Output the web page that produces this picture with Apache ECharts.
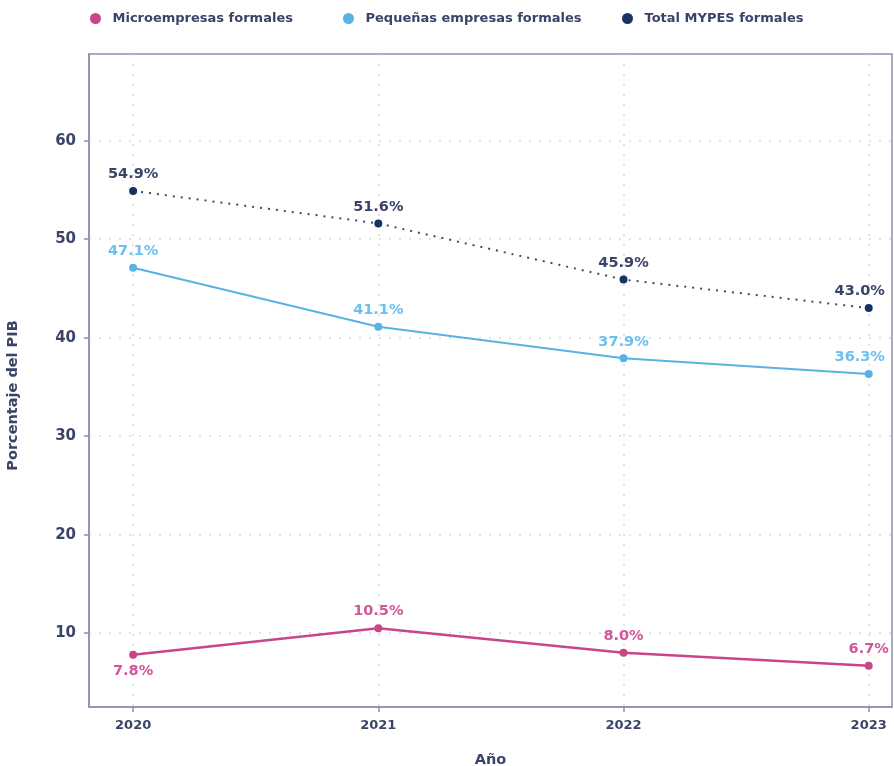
<!DOCTYPE html>
<html>
<head>
<meta charset="utf-8">
<script src="https://cdn.jsdelivr.net/npm/echarts@6/dist/echarts.min.js"></script>
<style>
  html, body { margin: 0; padding: 0; background: #ffffff; }
  #chart { width: 894px; height: 766px; }
</style>
</head>
<body>
<div id="chart"></div>
<script>
// Years on the horizontal axis
const years = [2020, 2021, 2022, 2023];
// Share of GDP (%) by firm size
const microempresas = [7.8, 10.5, 8.0, 6.7];
const pequenas = [47.1, 41.1, 37.9, 36.3];
const totalMypes = [54.9, 51.6, 45.9, 43.0];
// Value-axis tick labels
const yTicks = [10, 20, 30, 40, 50, 60];

const seriesNames = ['Microempresas formales', 'Pequeñas empresas formales', 'Total MYPES formales'];
const seriesColors = ['#c9458a', '#58b2e4', '#16345f'];
const labelColors = ['#d0589a', '#6cc0ee', '#3a4468'];

const axisColor = '#8d90b1';
const textColor = '#3b4468';
const font = '"DejaVu Sans", "Noto Sans", sans-serif';

const toPairs = (vals) => vals.map((v, i) => [years[i], v]);

const pctLabel = (color) => ({
  show: true,
  position: 'top',
  distance: 5,
  formatter: (p) => p.value[1].toFixed(1) + '%',
  color: color, fontSize: 14.5, fontWeight: 'bold', fontFamily: font
});

// Last-year labels are nudged left so they stay inside the frame
const withEdgeLabels = (vals) => toPairs(vals).map((d, i) => i === vals.length - 1
  ? { value: d, label: { offset: [-9, 0] } }
  : { value: d });

// One legend block per series so each entry sits at its own spot
const legendLefts = [85, 338, 617];
const legends = seriesNames.map((name, i) => ({
  top: 7,
  left: legendLefts[i],
  icon: 'circle',
  itemWidth: 24,
  itemHeight: 11,
  textStyle: { color: textColor, fontSize: 13, fontWeight: 'bold', fontFamily: font },
  data: [name]
}));

const chart = echarts.init(document.getElementById('chart'), null, { renderer: 'canvas' });

chart.setOption({
  backgroundColor: '#ffffff',
  animation: false,
  textStyle: { fontFamily: font },
  legend: legends,
  grid: {
    left: 89,
    right: 2,
    top: 54,
    bottom: 59,
    show: true,
    borderColor: axisColor,
    borderWidth: 1.5,
    containLabel: false,
    outerBoundsMode: 'none'
  },
  xAxis: {
    type: 'value',
    min: 2019.82,
    max: 2023.095,
    name: 'Año',
    nameLocation: 'middle',
    nameGap: 46,
    nameTextStyle: { color: textColor, fontSize: 14.5, fontWeight: 'bold', fontFamily: font },
    axisLine: { show: true, lineStyle: { color: axisColor, width: 1.5 } },
    axisTick: { show: true, length: 5, customValues: years, lineStyle: { color: axisColor, width: 1.5 } },
    axisLabel: {
      customValues: years,
      formatter: (v) => String(v),
      color: textColor, fontSize: 13, fontWeight: 'bold', margin: 12, fontFamily: font
    },
    splitLine: { show: true, lineStyle: { color: '#d9dae3', type: [2, 8], width: 1.5 } }
  },
  yAxis: {
    type: 'value',
    min: 2.5,
    max: 68.8,
    name: 'Porcentaje del PIB',
    nameLocation: 'middle',
    nameGap: 68,
    nameRotate: 90,
    nameTextStyle: {
      color: textColor, fontSize: 14.5, fontWeight: 'bold', fontFamily: font,
      padding: [0, 30, 0, 0]
    },
    axisLine: { show: true, lineStyle: { color: axisColor, width: 1.5 } },
    axisTick: { show: true, length: 5, customValues: yTicks, lineStyle: { color: axisColor, width: 1.5 } },
    axisLabel: {
      customValues: yTicks,
      color: textColor, fontSize: 15, fontWeight: 'bold', margin: 13, fontFamily: font
    },
    splitLine: { show: true, lineStyle: { color: '#d9dae3', type: [2, 8], width: 1.5 } }
  },
  series: [
    {
      name: seriesNames[0],
      type: 'line',
      // the 2020 value is labelled beneath its point
      data: toPairs(microempresas).map((d, i) => i === 0
        ? { value: d, label: { position: 'bottom', distance: 5 } }
        : { value: d }),
      color: seriesColors[0],
      symbol: 'circle',
      symbolSize: 8,
      lineStyle: { width: 2.5, color: seriesColors[0] },
      itemStyle: { color: seriesColors[0] },
      label: pctLabel(labelColors[0]),
      z: 3
    },
    {
      name: seriesNames[1],
      type: 'line',
      data: withEdgeLabels(pequenas),
      color: seriesColors[1],
      symbol: 'circle',
      symbolSize: 8,
      lineStyle: { width: 2, color: seriesColors[1] },
      itemStyle: { color: seriesColors[1] },
      label: pctLabel(labelColors[1]),
      z: 3
    },
    {
      name: seriesNames[2],
      type: 'line',
      data: withEdgeLabels(totalMypes),
      color: seriesColors[2],
      symbol: 'circle',
      symbolSize: 8,
      lineStyle: { width: 2, color: '#3d4a70', type: [2, 6] },
      itemStyle: { color: seriesColors[2] },
      label: pctLabel(labelColors[2]),
      z: 3
    }
  ]
});
</script>
</body>
</html>
